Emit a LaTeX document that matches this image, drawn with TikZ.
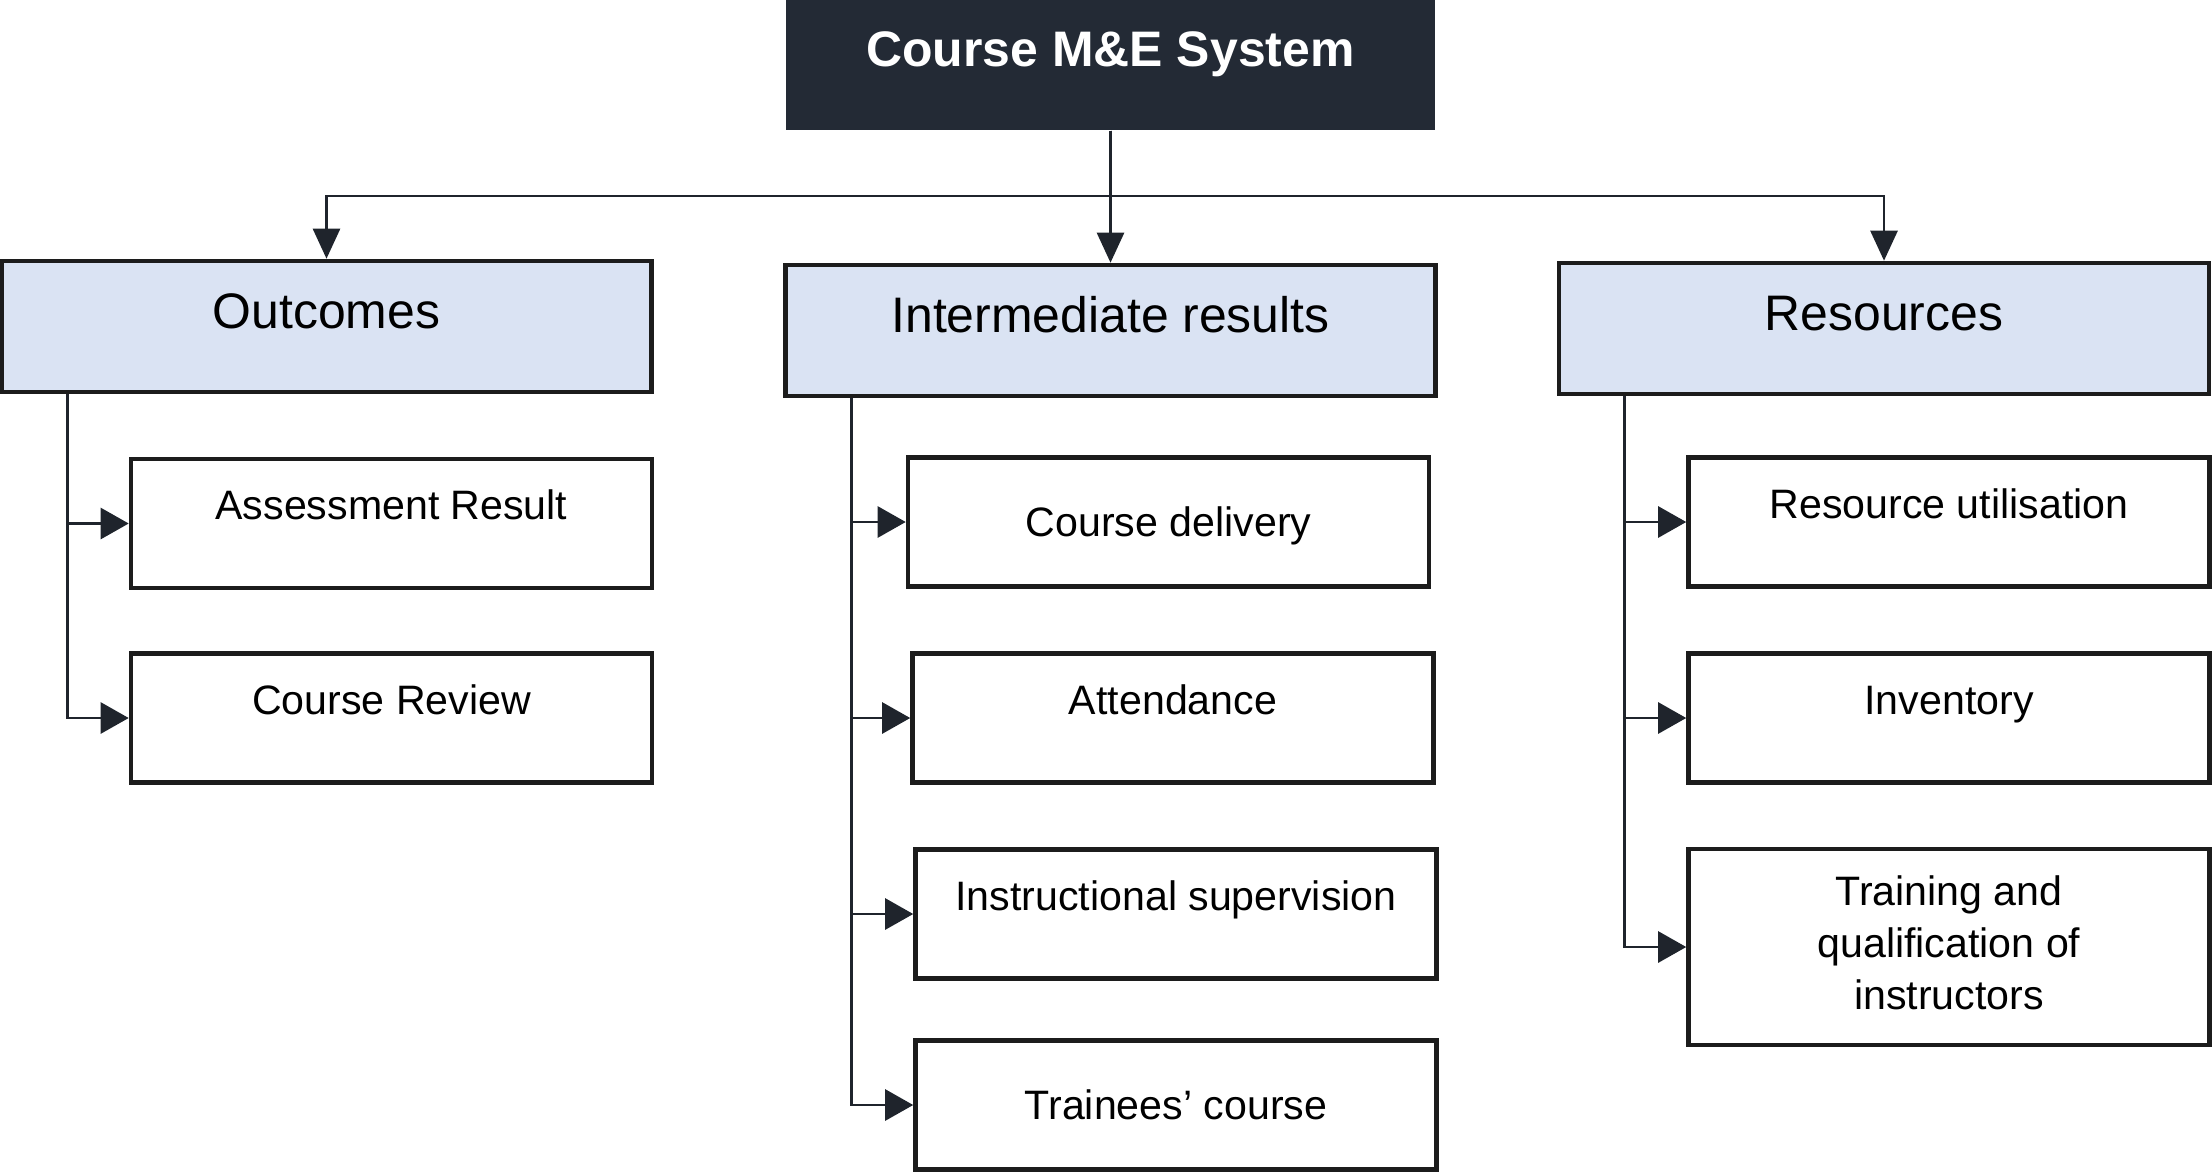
\documentclass[tikz,border=0pt]{standalone}
\usepackage{fontspec}
\setmainfont{Liberation Sans}
\usetikzlibrary{positioning,arrows.meta}
\definecolor{sysdark}{HTML}{232A35}
\definecolor{catfill}{HTML}{DAE3F3}
\definecolor{edge}{HTML}{1C1C1C}
\definecolor{wire}{HTML}{1F242C}
\tikzset{
  sysbox/.style={fill=sysdark,text=white,font=\fontsize{14.2}{17}\selectfont\bfseries,
    minimum width=6.49cm,minimum height=1.30cm,text height=12.6pt,text depth=12pt},
  catbox/.style={draw=edge,fill=catfill,line width=1.3pt,font=\fontsize{14.2}{17}\selectfont,
    minimum width=6.5cm,minimum height=1.31cm,text height=12.6pt,text depth=11.5pt},
  itembox/.style={draw=edge,fill=white,line width=1.3pt,font=\fontsize{11.7}{14.8}\selectfont,
    minimum width=5.21cm,minimum height=1.29cm,align=center},
  oneline/.style={text height=10.6pt,text depth=#1},
  oneline/.default=2.5pt,
  link/.style={draw=wire,line width=0.75pt},
  drop/.style={link,-{Triangle[length=0.3cm,width=0.27cm]}},
}
\begin{document}
\begin{tikzpicture}[>={Triangle[length=0.28cm,width=0.31cm]}]
  \useasboundingbox (0,0) rectangle (22.12,-11.72);
  % top of the tree
  \node[sysbox] (sys) at (11.105,-0.65) {Course M\&E System};
  \coordinate (bus) at (0,-1.96);
  % three groups
  \node[catbox] (out) at (3.265,-3.265) {Outcomes};
  \node[catbox] (mid) at (11.105,-3.305) {Intermediate results};
  \node[catbox] (res) at (18.84,-3.285) {Resources};
  \draw[drop] (sys.south) -- (sys.south |- bus) -| (out.north);
  \draw[drop] (sys.south) -- (sys.south |- bus) -| (res.north);
  \draw[drop] (sys.south) -- (mid.north);
  % outcomes
  \node[itembox,oneline=12.7pt] (ar) at (3.915,-5.235) {Assessment Result};
  \node[itembox,oneline=12.7pt] (cr) at (3.915,-7.18) {Course Review};
  % intermediate results
  \node[itembox,oneline] (cd) at (11.685,-5.22) {Course delivery};
  \node[itembox,oneline=12.7pt] (att) at (11.73,-7.18) {Attendance};
  \node[itembox,oneline=12.7pt] (isv) at (11.76,-9.14) {Instructional supervision};
  \node[itembox,oneline] (tc) at (11.76,-11.05) {Trainees’ course};
  % resources
  \node[itembox,oneline=12.7pt] (ru) at (19.49,-5.22) {Resource utilisation};
  \node[itembox,oneline=12.7pt] (inv) at (19.49,-7.18) {Inventory};
  \node[itembox,minimum height=1.96cm,text depth=2.6pt] (tq) at (19.49,-9.47) {Training and\\qualification of\\instructors};
  % spines
  \coordinate (outsp) at ([xshift=0.68cm]out.south west);
  \coordinate (midsp) at ([xshift=0.68cm]mid.south west);
  \coordinate (ressp) at ([xshift=0.68cm]res.south west);
  \foreach \c in {ar,cr} \draw[link,->] (outsp) |- (\c.west);
  \foreach \c in {cd,att,isv,tc} \draw[link,->] (midsp) |- (\c.west);
  \foreach \c in {ru,inv,tq} \draw[link,->] (ressp) |- (\c.west);
\end{tikzpicture}
\end{document}
